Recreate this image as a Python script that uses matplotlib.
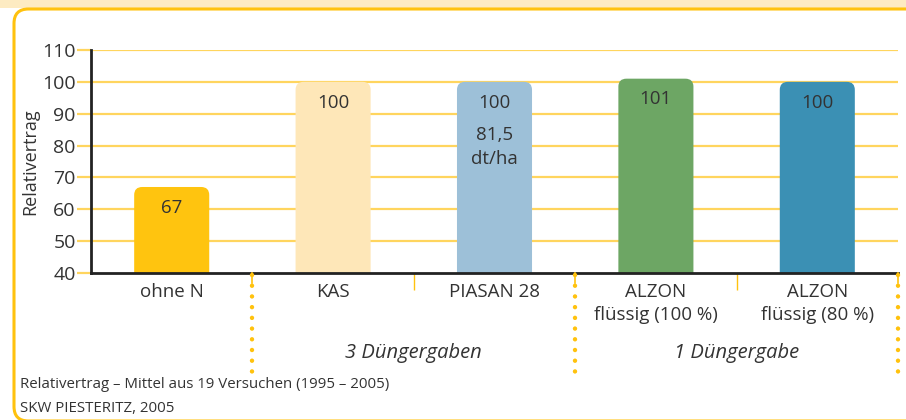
import numpy as np
import matplotlib.pyplot as plt
from matplotlib.patches import FancyBboxPatch, Rectangle

plt.rcParams['font.family'] = ['Open Sans', 'DejaVu Sans']

# daten
kategorien = ['ohne N', 'KAS', 'PIASAN 28', 'ALZON\nflüssig (100 %)', 'ALZON\nflüssig (80 %)']
werte = [67, 100, 100, 101, 100]
farben = ['#FFC40F', '#FEE7B8', '#9DC0D8', '#6DA664', '#3B90B4']
gruppen = ['3 Düngergaben', '1 Düngergabe']
gruppen_pos = [1.5, 3.5]
trenner = [0.5, 2.5, 4.5]
yticks = [40, 50, 60, 70, 80, 90, 100, 110]

GELB = '#FFC20E'
GITTER = '#FFD55E'
TEXT = '#333333'

fig = plt.figure(figsize=(9.06, 4.2), dpi=100)

# rahmen / hintergrund
fig.patches.append(Rectangle((0, 1 - 8 / 420), 1, 8 / 420, transform=fig.transFigure,
                             facecolor='#FDEBC2', edgecolor='none', zorder=-3))
fig.patches.append(FancyBboxPatch((14 / 906, -1 / 420), 1.2, 1 - 9 / 420 + 1 / 420,
                                  boxstyle='round,pad=0,rounding_size=0.016',
                                  mutation_aspect=906 / 420,
                                  transform=fig.transFigure, facecolor='white',
                                  edgecolor=GELB, linewidth=2.2, zorder=-2))

ax = fig.add_axes([91 / 906, 1 - 273 / 420, (898 - 91) / 906, (273 - 50) / 420])
ax.set_facecolor('none')
ax.set_xlim(-0.5, 4.5)
ax.set_ylim(40, 110)

x = np.arange(len(werte))
breite = 0.465
for xi, w, f in zip(x, werte, farben):
    p = FancyBboxPatch((xi - breite / 2, 20), breite, w - 20,
                       boxstyle='round,pad=0,rounding_size=0.05',
                       mutation_aspect=50, facecolor=f, edgecolor='none', zorder=2)
    ax.add_patch(p)
    ax.text(xi, w - 6.5, str(w), ha='center', va='center', fontsize=13.5, color=TEXT, zorder=3)

ax.text(2, 79.6, '81,5\ndt/ha', ha='center', va='center', fontsize=13.5, color=TEXT,
        linespacing=1.4, zorder=3)

ax.set_yticks(yticks)
ax.set_yticklabels([str(t) for t in yticks], fontsize=14, color=TEXT)
for t in yticks[1:]:
    ax.axhline(t, color=GITTER, linewidth=1.6, zorder=1)
ax.tick_params(axis='y', length=10, width=1.6, color=GITTER, pad=1)

ax.set_xticks(x)
ax.set_xticklabels(kategorien, fontsize=13.5, color=TEXT, linespacing=1.35)
ax.tick_params(axis='x', length=0, pad=7)
ax.set_xticks([1.5, 3.5], minor=True)
ax.tick_params(axis='x', which='minor', length=12, width=1, color=GELB)

for s in ['top', 'right']:
    ax.spines[s].set_visible(False)
for s in ['left', 'bottom']:
    ax.spines[s].set_linewidth(2)
    ax.spines[s].set_color('#222222')
    ax.spines[s].set_zorder(4)

ax.set_ylabel('Relativertrag', fontsize=13, color=TEXT, labelpad=2)

# gepunktete trennlinien
for t in trenner:
    ax.plot([t, t], [39.5, 9.0], color=GELB, linewidth=3.2, linestyle=(0, (0.01, 2.4)),
            dash_capstyle='round', solid_capstyle='round', clip_on=False, zorder=5)
    ax.plot([t, t], [40, 37], color=GELB, linewidth=1.2, clip_on=False, zorder=5)

for g, gp in zip(gruppen, gruppen_pos):
    ax.text(gp, 15.0, g, ha='center', va='center', fontsize=14.5, style='italic',
            color=TEXT, clip_on=False)

fig.text(20 / 906, 1 - 385 / 420, 'Relativertrag – Mittel aus 19 Versuchen (1995 – 2005)',
         fontsize=10.8, color=TEXT, va='center')
fig.text(20 / 906, 1 - 409 / 420, 'SKW PIESTERITZ, 2005',
         fontsize=10.8, color=TEXT, va='center')

fig.savefig('out.png', dpi=100)
